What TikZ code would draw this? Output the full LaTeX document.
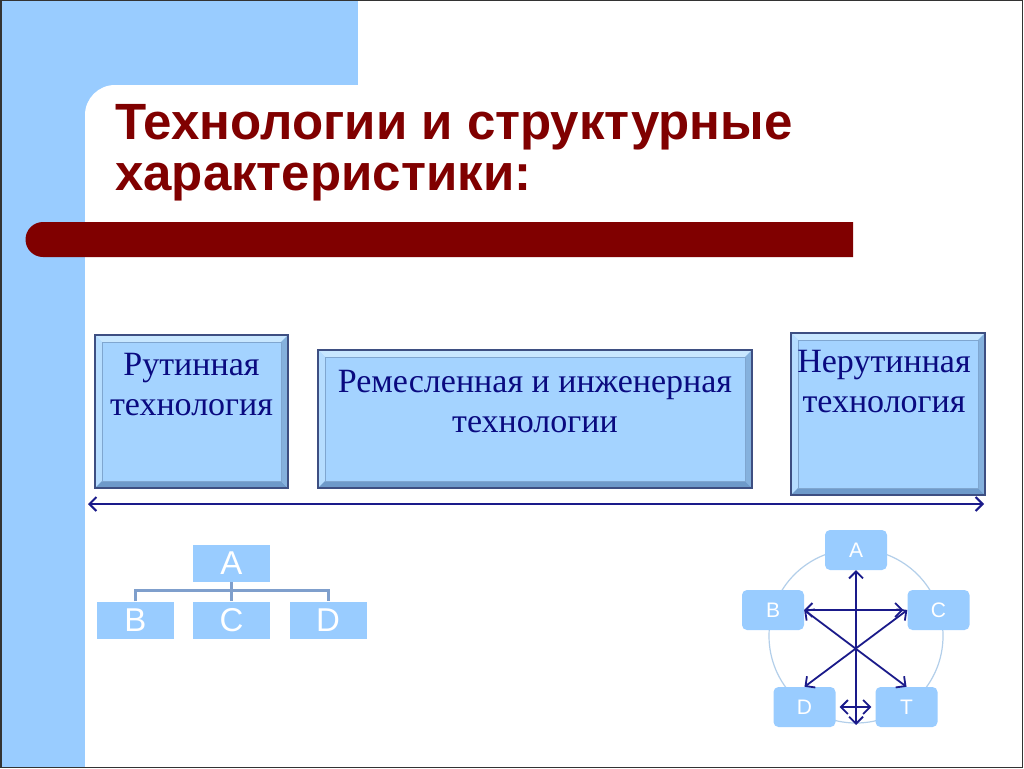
\documentclass[tikz,border=0pt]{standalone}
\usepackage{fontspec}
\setmainfont{Liberation Serif}
\setsansfont{Liberation Sans}
\usetikzlibrary{arrows.meta}
\definecolor{bgblue}{HTML}{99CCFF}
\definecolor{titlered}{HTML}{800000}
\definecolor{navy}{HTML}{0A0A80}
\definecolor{boxfill}{HTML}{A4D3FF}
\definecolor{boxedge}{HTML}{3E4F82}
\definecolor{bevlight}{HTML}{C8E7FF}
\definecolor{bevleft}{HTML}{B6DDFF}
\definecolor{bevdark}{HTML}{6E9ACA}
\definecolor{bevright}{HTML}{85B1DD}
\definecolor{bevline}{HTML}{7FA6D0}
\definecolor{nodeblue}{HTML}{99CCFF}
\definecolor{treeline}{HTML}{7F9FCC}
\definecolor{ringblue}{HTML}{B3CFEA}
\definecolor{arrowblue}{HTML}{1A1A8A}
\begin{document}
\begin{tikzpicture}[x=1pt,y=-1pt,
  bevelbox/.style={draw=boxedge, line width=1.4pt, fill=boxfill, inner sep=0pt,
    path picture={
      \fill[bevlight] (path picture bounding box.north west) -- (path picture bounding box.north east)
        -- ([shift={(-7pt,-7pt)}]path picture bounding box.north east) -- ([shift={(7pt,-7pt)}]path picture bounding box.north west) -- cycle;
      \fill[bevleft] (path picture bounding box.north west) -- (path picture bounding box.south west)
        -- ([shift={(7pt,7pt)}]path picture bounding box.south west) -- ([shift={(7pt,-7pt)}]path picture bounding box.north west) -- cycle;
      \fill[bevdark] (path picture bounding box.south west) -- (path picture bounding box.south east)
        -- ([shift={(-7pt,7pt)}]path picture bounding box.south east) -- ([shift={(7pt,7pt)}]path picture bounding box.south west) -- cycle;
      \fill[bevright] (path picture bounding box.north east) -- (path picture bounding box.south east)
        -- ([shift={(-7pt,7pt)}]path picture bounding box.south east) -- ([shift={(-7pt,-7pt)}]path picture bounding box.north east) -- cycle;
      \draw[bevline, line width=0.7pt] ([shift={(7pt,-7pt)}]path picture bounding box.north west) rectangle ([shift={(-7pt,7pt)}]path picture bounding box.south east);
    }},
  boxtext/.style={font=\fontsize{34}{40}\selectfont, text=navy, align=center, inner sep=0pt, anchor=north},
  tnode/.style={fill=nodeblue, text=white, font=\sffamily\fontsize{33}{33}\selectfont, minimum width=77pt, minimum height=37pt, inner sep=0pt},
  cnode/.style={fill=nodeblue, text=white, rounded corners=5pt, font=\sffamily\fontsize{21}{21}\selectfont, minimum width=62pt, minimum height=40pt, inner sep=0pt},
  tree/.style={draw=treeline, line width=3pt},
  cyc/.style={draw=arrowblue, line width=1.8pt, {Straight Barb[length=7pt,width=14pt]}-{Straight Barb[length=7pt,width=14pt]}},
  longarrow/.style={draw=arrowblue, line width=2pt, {Straight Barb[length=7pt,width=14pt]}-{Straight Barb[length=7pt,width=14pt]}},
  ring/.style={draw=ringblue, line width=1.2pt}
]
\useasboundingbox (0,0) rectangle (1024,768);
% background
\fill[white] (0,0) rectangle (1024,768);
\fill[bgblue] (0,0) rectangle (358,768);
\fill[white] (85,768) -- (85,115) arc[start angle=180, end angle=270, radius=30] -- (1024,85) -- (1024,768) -- cycle;
\draw[black!80, line width=1.5pt] (0.75,0.75) rectangle (1022.5,767.25);
% title
\node[anchor=north west, inner sep=0pt, align=left, font=\sffamily\bfseries\fontsize{51}{51}\selectfont, text=titlered] (title) at (115,104) {Технологии и структурные\\характеристики:};
\fill[titlered] (853,222) -- (43,222) arc[start angle=270, end angle=90, radius=17.5] -- (853,257) -- cycle;
% boxes
\node[bevelbox, minimum width=193pt, minimum height=153pt] (rout) at (191.5,411.5) {};
\node[bevelbox, minimum width=434pt, minimum height=138pt] (rem) at (535,419) {};
\node[bevelbox, minimum width=194pt, minimum height=162pt] (nerout) at (888,414) {};
\node[boxtext] (routt) at (rout.north |- 0,353) {Рутинная\\технология};
\node[boxtext] (remt) at (rem.north |- 0,370) {Ремесленная и инженерная\\технологии};
\node[boxtext] (neroutt) at ([xshift=-4pt]nerout.north |- 0,350) {Нерутинная\\технология};
% long arrow
\coordinate (le) at (88,504);
\coordinate (re) at (984,504);
\draw[longarrow] (le) -- (re);
% hierarchy
\node[tnode] (tA) at (231.5,563.5) {A};
\node[tnode] (tB) at (135.5,620) {B};
\node[tnode] (tC) at (231.5,620) {C};
\node[tnode] (tD) at (328,620) {D};
\draw[tree] (tA.south) -- (tC.north);
\draw[tree] (tB.north) -- ++(0,-11) -| (tD.north);
% cycle
\draw[ring] (856,636) circle[radius=87];
\node[cnode] (cA) at (856,550) {A};
\node[cnode] (cB) at (773,610) {B};
\node[cnode] (cC) at (938.5,610) {C};
\node[cnode] (cD) at (804.5,707) {D};
\node[cnode] (cT) at (906.5,707) {T};
\coordinate (vbot) at (856,725);
\draw[cyc] (cA.south) -- (vbot);
\draw[cyc, shorten >=4pt] (cB.east) -- (cC.west);
\draw[cyc] (cB.east) -- (cT.north);
\draw[cyc] (cC.west) -- (cD.north);
\draw[cyc, shorten <=4pt, shorten >=4pt] (cD.east) -- (cT.west);
\end{tikzpicture}
\end{document}
